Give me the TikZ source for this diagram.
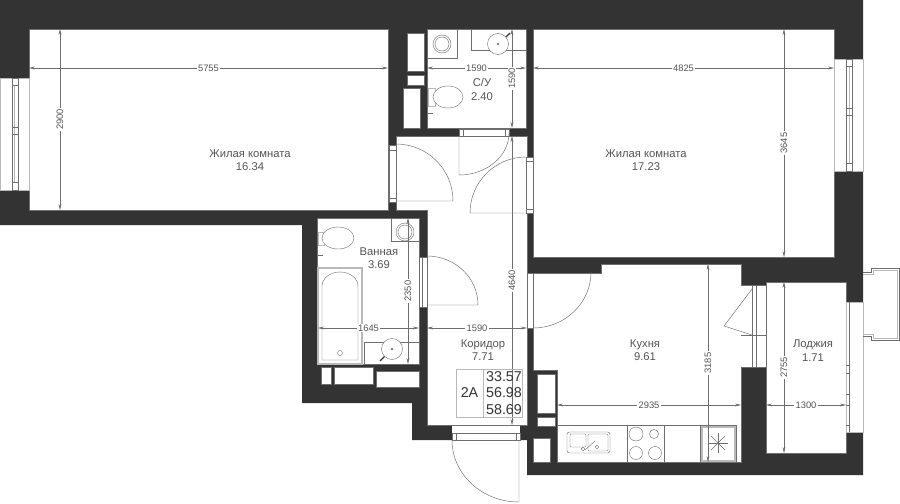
\documentclass[tikz,border=0pt]{standalone}
\usepackage{fontspec}
\setmainfont{Liberation Sans}
\usetikzlibrary{arrows.meta, positioning}
\definecolor{wallgray}{RGB}{51, 51, 51}
\definecolor{inkgray}{RGB}{85, 85, 85}
\definecolor{linegray}{RGB}{110, 110, 110}
\definecolor{palegray}{RGB}{185, 185, 185}
\tikzset{
  wall/.style={fill=wallgray},
  room/.style={draw=linegray, fill=white, line width=0.6pt},
  fixture/.style={draw=linegray, line width=0.35pt},
  thickfix/.style={draw=palegray, line width=0.9pt},
  doorleaf/.style={draw=linegray, line width=0.4pt},
  frame/.style={draw=linegray, fill=white, line width=0.35pt},
  dimline/.style={draw=linegray, line width=0.35pt, {Stealth[length=5pt,width=2.4pt]}-{Stealth[length=5pt,width=2.4pt]}},
  dimtext/.style={fill=white, text=inkgray, inner sep=1pt, font=\fontsize{8}{8}\selectfont},
  roomtext/.style={text=inkgray, align=center, inner sep=0pt, font=\fontsize{9.6}{11.4}\selectfont},
  infotext/.style={text=wallgray, inner sep=0pt, font=\fontsize{12.2}{12.2}\selectfont}
}

\begin{document}
\begin{tikzpicture}[x=0.03cm, y=-0.03cm]
  \useasboundingbox (0,0) rectangle (900,503);

  % Walls
  \fill[wall] (0,0) -- (863,0) -- (863,475) -- (527,475) -- (527,440) -- (412,440)
    -- (412,403) -- (302,403) -- (302,225) -- (0,225) -- cycle;

  % Rooms
  \draw[room] (29,29) rectangle (388,210);
  \draw[room] (533,29) rectangle (834,257);
  \draw[room] (427,29) rectangle (526,128);
  \draw[room] (317,218) rectangle (419,364);
  \draw[room] (766,282) rectangle (846,453);
  \draw[room] (396,136) -- (527,136) -- (527,425) -- (427,425) -- (427,210) -- (396,210) -- cycle;
  \draw[room] (533,273) -- (601,273) -- (601,264) -- (741,264) -- (741,285) -- (766,285)
    -- (766,367) -- (741,367) -- (741,462) -- (557,462) -- (557,370) -- (533,370) -- cycle;

  % Shafts in the walls
  \foreach \xa/\ya/\xb/\yb in {407/33/424/71, 407/75/424/85, 403/88/420/128,
    321/367/331/384, 334/367/373/384, 376/371/419/387,
    537/374/555/413, 537/417/555/426, 533/438/550/462}
    \draw[room] (\xa,\ya) rectangle (\xb,\yb);

  % Windows
  \draw[room, draw=palegray] (0,78) rectangle (29,190);
  \draw[frame] (12,78) rectangle (18,190);
  \draw[draw=palegray, line width=0.8pt] (14,85) -- (14,182);
  \foreach \y in {85, 127, 134, 182}
    \draw[fixture] (12,\y) -- (18,\y);
  \draw[room, draw=palegray] (834,59) rectangle (863,171);
  \draw[frame] (846,59) rectangle (852,171);
  \draw[draw=palegray, line width=0.8pt] (849,66) -- (849,163);
  \foreach \y in {66, 108, 115, 163}
    \draw[fixture] (846,\y) -- (852,\y);
  \draw[room, draw=palegray] (846,302) rectangle (863,432);
  \draw[fixture] (849,302) -- (849,432);
  \foreach \y in {365, 373, 394, 405, 425}
    \draw[fixture] (846,\y) -- (849,\y);

  % Balcony
  \draw[fixture] (863,272) -- (871,272) -- (871,268) -- (899,268) -- (899,340) -- (871,340)
    -- (871,336) -- (863,336);
  \draw[fixture, draw=palegray] (863,274) -- (873,274) -- (873,270) -- (897,270) -- (897,338) -- (873,338)
    -- (873,334) -- (863,334);

  % Door frames
  \fill[white] (452,425.5) rectangle (520,433);
  \foreach \xa/\ya/\xb/\yb in {389/145/396/202, 459/129/509/136, 526/157/533/213,
    419/257/427/307, 527/273/533/328, 452/433/520/440}
    \draw[frame] (\xa,\ya) rectangle (\xb,\yb);
  \draw[fixture] (389,150) -- (396,150) (389,198) -- (396,198);
  \draw[fixture] (463,129) -- (463,136) (505,129) -- (505,136);
  \draw[fixture] (526,161) -- (533,161) (526,209) -- (533,209);
  \draw[fixture] (422,257) -- (422,307);
  \draw[fixture] (456,433) -- (456,440) (516,433) -- (516,440);
  \draw[frame] (752,285) rectangle (756,367);
  \draw[fixture] (741,335) -- (766,335);

  % Door leaves
  \draw[doorleaf] (396,144) arc[start angle=-90, end angle=0, radius=57] -- (396,201);
  \draw[doorleaf] (509,133) arc[start angle=0, end angle=90, x radius=50, y radius=42] -- (459,136);
  \draw[doorleaf] (526,157) arc[start angle=-90, end angle=-180, radius=56] -- (526,213);
  \draw[doorleaf] (427,256) arc[start angle=-90, end angle=0, x radius=51, y radius=49] -- (427,305);
  \draw[doorleaf] (591,272) arc[start angle=0, end angle=90, x radius=58, y radius=56];
  \draw[doorleaf] (452,440) arc[start angle=180, end angle=90, x radius=67, y radius=62] -- (519,440);
  \draw[doorleaf] (752,289) -- (724,326) -- (752,335);

  % Toilet room
  \draw[fixture] (427,58) -| (457,29);
  \draw[fixture] (442,44) circle (9) (442,44) circle (7);
  \draw[fixture] (471,29) |- (526,50);
  \draw[fixture, draw=wallgray, line width=1pt] (505,38) -- (510,33);
  \draw[fixture, fill=white] (498,44) circle (10.5);
  \draw[fixture] (498,44) circle (1);
  \draw[thickfix, line width=0.5pt] (428,88) rectangle (435,106);
  \draw[fixture, fill=white] (448,97) ellipse (15 and 11);
  \draw[fixture] (428,113) -- (433,113);

  % Bathroom
  \draw[fixture] (391,218) |- (419,241);
  \draw[fixture] (405,232) circle (9) (405,232) circle (7);
  \draw[thickfix, line width=0.5pt] (318,232) rectangle (324,245);
  \draw[fixture, fill=white] (338,238) ellipse (16 and 11);
  \draw[fixture] (318,255) -- (323,255);
  \draw[thickfix] (318,268) rectangle (362,364);
  \draw[fixture] (322,360) -- (322,286) arc[start angle=180, end angle=360, x radius=18, y radius=14]
    -- (358,360) -- cycle;
  \draw[fixture] (340,353) circle (2.5);
  \draw[fixture] (364,364) |- (419,342);
  \draw[fixture, draw=wallgray, line width=1pt] (385,356) -- (380,361);
  \draw[fixture, fill=white] (392,349) circle (10.5);
  \draw[fixture] (392,349) circle (1);

  % Kitchen furniture
  \draw[fixture] (557,425) -- (736,425) -- (736,462);
  \foreach \x in {627, 664, 700}
    \draw[fixture] (\x,425) -- (\x,462);
  \draw[thickfix] (702,427) rectangle (735,461);
  \foreach \a in {0, 45, ..., 315}
    \draw[fixture] (718,443) -- ++(\a:10);
  \draw[fixture, rounded corners=2pt] (567,432) rectangle (610,453);
  \draw[fixture, rounded corners=1pt] (570,434) rectangle (586,447);
  \draw[fixture, rounded corners=1pt] (588,434) rectangle (608,451);
  \draw[fixture] (585,450) -- (595,441);
  \draw[fixture] (583,449) circle (1.8) (597,447) circle (1.8);
  \foreach \x/\y/\r in {636/434/7, 654/434/4.5, 636/453/6.5, 655/453/6.5}
    \draw[fixture] (\x,\y) circle (\r);

  % Dimensions
  \foreach \xa/\xb/\y/\t in {29/388/68/5755, 427/526/68/1590, 533/834/68/4825, 318/419/328/1645,
    427/527/328/1590, 557/741/405/2935, 766/846/405/1300}
    \draw[dimline] (\xa,\y) -- node[dimtext] {\t} (\xb,\y);
  \foreach \x/\ya/\yb/\t in {60/29/210/2900, 512/29/128/1590, 512/136/425/4640,
    784/29/257/3645, 408/218/364/2350, 708/264/462/3185, 784/282/453/2755}
    \draw[dimline] (\x,\ya) -- node[dimtext, rotate=90] {\t} (\x,\yb);

  % Room labels
  \node[roomtext] (livingone) at (250,160) {Жилая комната\\16.34};
  \node[roomtext] (livingtwo) at (646,160) {Жилая комната\\17.23};
  \node[roomtext] (toiletroom) at (482,89.5) {С/У\\2.40};
  \node[roomtext] (bathroom) at (379,258) {Ванная\\3.69};
  \node[roomtext] (corridor) at (483,350) {Коридор\\7.71};
  \node[roomtext] (kitchen) at (645,350) {Кухня\\9.61};
  \node[roomtext] (loggia) at (813,350.5) {Лоджия\\1.71};

  % Area box
  \draw[frame, fill=none, draw=palegray, line width=0.6pt] (456,369) rectangle (522,417);
  \draw[draw=palegray, line width=0.6pt] (483,369) -- (483,417);
  \node[infotext] (flattype) at (469.5,393) {2А};
  \node[infotext] (arealiving) at (504,376.5) {33.57};
  \node[infotext] (areatotal) at (504,393) {56.98};
  \node[infotext] (areafull) at (504,410) {58.69};
\end{tikzpicture}
\end{document}
